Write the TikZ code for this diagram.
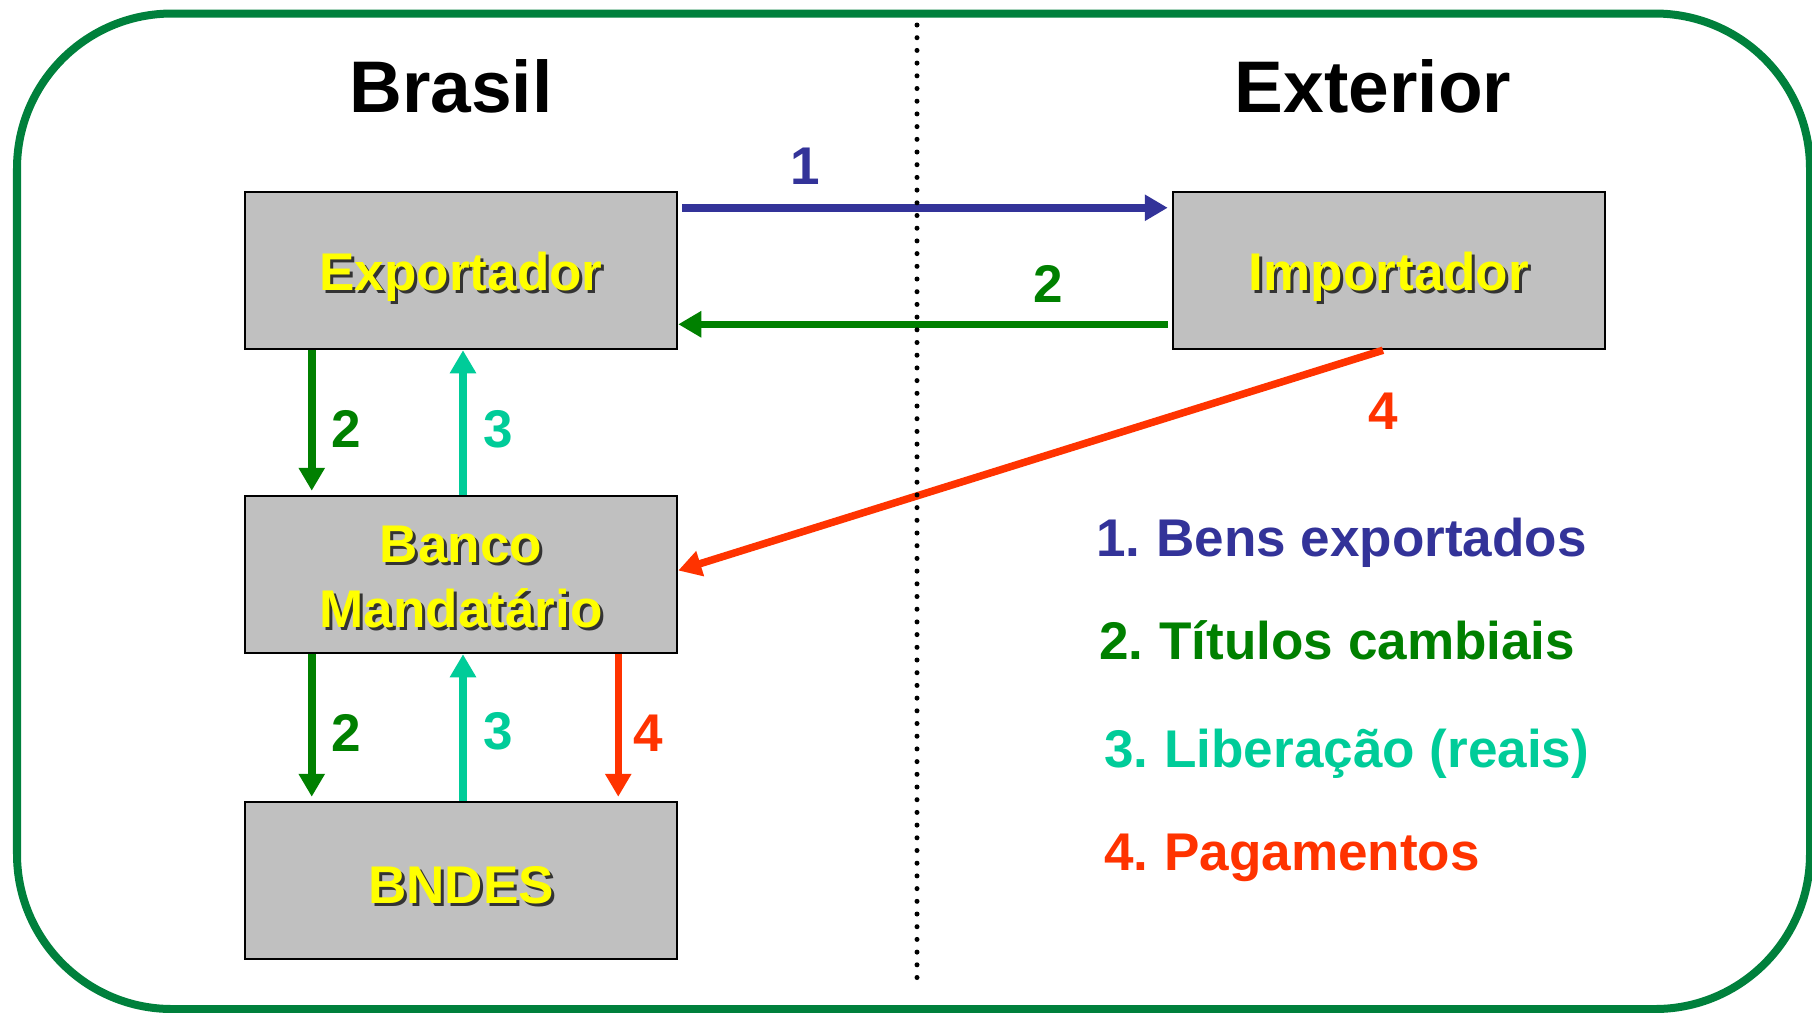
\documentclass[tikz,border=0pt]{standalone}
\usepackage{fontspec}
\setmainfont{Liberation Sans}
\usetikzlibrary{arrows.meta}
\definecolor{azul}{RGB}{51,51,153}
\definecolor{verde}{RGB}{0,128,0}
\definecolor{turquesa}{RGB}{0,204,153}
\definecolor{vermelho}{RGB}{255,51,0}
\definecolor{moldura}{RGB}{0,128,60}
\definecolor{cinza}{RGB}{192,192,192}
\definecolor{amarelo}{RGB}{255,255,0}
\newcommand\fonteA{\fontsize{20.8}{25}\selectfont\bfseries}
\newcommand\fonteB{\fontsize{15.1}{18}\selectfont\bfseries}
% texto amarelo com sombra
\newcommand\letreiro[3]{%
  \node[sombra,xshift=0.03cm,yshift=-0.03cm] (s#1) at #2 {#3};
  \node[letra] (#1) at #2 {#3};}

\begin{document}
\begin{tikzpicture}[semithick,
  caixa/.style={draw=black,line width=0.025cm,fill=cinza,minimum width=4.32cm,minimum height=1.57cm,inner sep=0},
  letra/.style={font=\fonteB,text=amarelo,anchor=base,inner sep=0},
  sombra/.style={letra,text=black!80},
  num/.style={font=\fonteB,anchor=base,inner sep=0},
  seta/.style={line width=0.075cm,-{Triangle[width=0.25cm,length=0.23cm]}}]
\useasboundingbox (0,0) rectangle (18.12,-10.12);
\draw[moldura,line width=0.08cm,rounded corners=1.55cm] (0.17,-0.135) rectangle (18.10,-10.09);
\node[font=\fonteA,anchor=base] (brasil) at (4.51,-1.12) {Brasil};
\node[font=\fonteA,anchor=base] (exterior) at (13.73,-1.12) {Exterior};
% caixas
\node[caixa] (exp) at (4.61,-2.705) {};
\node[caixa] (imp) at (13.89,-2.705) {};
\node[caixa] (banco) at (4.61,-5.745) {};
\node[caixa] (bndes) at (4.61,-8.805) {};
\letreiro{texp}{(4.61,-2.90)}{Exportador}
\letreiro{timp}{(13.89,-2.90)}{Importador}
\letreiro{tbanco}{(4.61,-5.62)}{Banco}
\letreiro{tmand}{(4.61,-6.27)}{Mandatário}
\letreiro{tbndes}{(4.61,-9.03)}{BNDES}
% setas
\draw[seta,azul,shorten <=0.04cm,shorten >=0.04cm] ([yshift=-0.17cm]exp.north east) -- ([yshift=-0.17cm]imp.north west);
\draw[seta,verde,shorten <=0.04cm] ([yshift=0.26cm]imp.south west) -- ([yshift=0.26cm]exp.south east);
\draw[seta,verde,shorten >=0.04cm] ([xshift=0.68cm]exp.south west) -- ([xshift=0.68cm]banco.north west);
\draw[seta,turquesa] ([xshift=0.02cm]banco.north) -- ([xshift=0.02cm]exp.south);
\draw[seta,verde,shorten >=0.04cm] ([xshift=0.68cm]banco.south west) -- ([xshift=0.68cm]bndes.north west);
\draw[seta,turquesa] ([xshift=0.02cm]bndes.north) -- ([xshift=0.02cm]banco.south);
\draw[seta,vermelho,shorten >=0.04cm] ([xshift=-0.6cm]banco.south east) -- ([xshift=-0.6cm]bndes.north east);
\draw[seta,vermelho] ([xshift=-0.06cm]imp.south) -- ([yshift=0.04cm]banco.east);
% fronteira
\coordinate (topo) at (9.17,-0.25);
\coordinate (fundo) at (9.17,-9.85);
\draw[line width=0.05cm,line cap=round,dash pattern=on 0pt off 0.127cm] (topo) -- (fundo);
% numeros
\node[num,azul] (n1) at (8.05,-1.84) {1};
\node[num,verde] (n2) at (10.48,-3.02) {2};
\node[num,vermelho] (n4) at (13.83,-4.29) {4};
\node[num,verde] (n2a) at (3.46,-4.47) {2};
\node[num,turquesa] (n3a) at (4.98,-4.47) {3};
\node[num,verde] (n2b) at (3.46,-7.51) {2};
\node[num,turquesa] (n3b) at (4.98,-7.49) {3};
\node[num,vermelho] (n4b) at (6.48,-7.51) {4};
% legenda
\node[num,anchor=base west,azul] (leg1) at (10.95,-5.56) {1.\hspace{0.16cm}Bens exportados};
\node[num,anchor=base west,verde] (leg2) at (10.98,-6.59) {2.\hspace{0.16cm}Títulos cambiais};
\node[num,anchor=base west,turquesa] (leg3) at (11.03,-7.67) {3.\hspace{0.16cm}Liberação (reais)};
\node[num,anchor=base west,vermelho] (leg4) at (11.03,-8.70) {4.\hspace{0.16cm}Pagamentos};
\end{tikzpicture}
\end{document}
